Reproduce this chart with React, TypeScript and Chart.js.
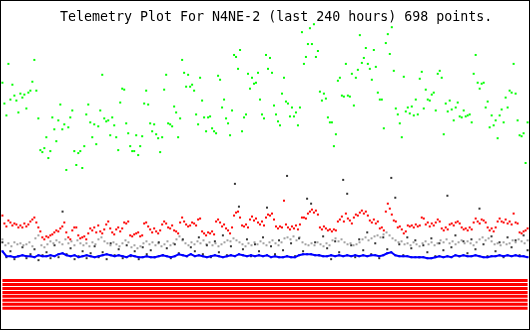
import React, { useEffect, useRef } from "react";
import { Chart, registerables } from "chart.js";

Chart.register(...registerables);

const TITLE = "Telemetry Plot For N4NE-2 (last 240 hours) 698 points.";
const HOURS = 240;

// Channel 1 (green, widely scattered)
const greenValues = [
  248, 227, 215, 267, 231, 246, 235, 230, 218, 237, 233, 236, 222, 238, 240, 249, 271, 240, 212, 180,
  178, 182, 193, 172, 179, 213, 201, 189, 210, 226, 201, 206, 160, 203, 213, 220, 179, 165, 177, 179,
  162, 184, 216, 226, 208, 193, 206, 186, 204, 220, 256, 212, 209, 210, 195, 213, 205, 193, 180, 228,
  242, 241, 207, 197, 184, 179,
  179, 195, 175, 184, 194, 227, 240, 226, 207, 199, 206, 196, 192, 178, 193, 241, 256, 207, 206, 204,
  224, 218, 193, 212, 271, 258, 244, 256, 244, 246, 240, 216, 206, 253, 230, 213, 199, 213, 214, 202,
  199, 197, 255, 251, 223, 231, 212, 207, 195, 220, 276, 274, 262, 281, 199, 213, 216, 257, 242, 253,
  247, 248, 258, 231, 216, 212, 276,
  262, 273, 258, 225, 216, 209, 205, 237, 253, 229, 227, 214, 223, 214, 218, 205, 223, 299, 267, 274,
  287, 303, 287, 307, 274, 280, 239, 230, 237, 232, 213, 208, 208, 184, 196, 250, 253, 235, 234, 267,
  235, 234, 257, 225, 253, 261, 296, 268, 273, 283, 267, 262, 251, 281, 264, 238, 231, 231, 202, 288,
  297, 277, 304, 260, 222, 216, 207,
  193, 254, 219, 223, 217, 224, 215, 231, 216, 252, 259, 222, 241, 231, 230, 236, 238, 220, 257, 260,
  253, 196, 227, 219, 230, 221, 210, 223, 228, 214, 213, 220, 214, 215, 216, 208, 257, 276, 248, 242,
  247, 248, 223, 229, 203, 215, 205, 210, 192, 215, 221, 208, 233, 223, 240, 238, 267, 237, 210, 195,
  194, 197, 167, 208,
];

// Channel 2 (red)
const redValues = [
  114, 106, 103, 109, 107, 104, 106, 105, 102, 104,
  102, 106, 103, 105, 108, 110, 112, 107, 102, 98,
  92, 90, 93, 92, 94, 95, 97, 99, 98, 101,
  103, 107, 97, 92, 90, 99, 102, 102, 94, 91,
  92, 93, 90, 96, 101, 99, 102, 97, 104, 98,
  96, 100, 105, 108, 101, 97, 95, 100, 102, 98,
  101, 107, 106, 108, 94, 93, 95, 96, 97, 93,
  94, 106, 107, 103, 100, 97, 101, 98, 96, 99,
  105, 108, 106, 102, 101, 104, 99, 98, 96, 107,
  112, 108, 105, 103, 104, 107, 106, 104, 110, 111,
  98, 96, 94, 97, 96, 98, 95, 108, 110, 107,
  103, 105, 101, 99, 96, 102, 114, 117, 118, 112,
  104, 103, 105, 102, 110, 113, 109, 111, 107, 105,
  108, 104, 112, 115, 114, 116, 110, 103, 101, 103,
  102, 129, 105, 102, 100, 103, 101, 104, 100, 105,
  112, 112, 111, 116, 118, 120, 117, 119, 115, 102,
  100, 103, 101, 99, 100, 98, 100, 99, 108, 110,
  113, 108, 116, 111, 109, 106, 112, 115, 114, 117,
  119, 116, 118, 114, 109, 107, 110, 106, 108, 101,
  102, 99, 118, 126, 121, 115, 109, 108, 102, 103,
  100, 96, 98, 104, 103, 104, 102, 105, 103, 104,
  112, 111, 105, 107, 103, 106, 104, 107, 110, 108,
  101, 99, 102, 100, 105, 106, 104, 107, 108, 106,
  102, 100, 101, 99, 102, 100, 107, 111, 108, 106,
  110, 109, 107, 102, 99, 101, 98, 102, 108, 111,
  108, 107, 110, 106, 108, 105, 116, 107, 106, 97,
  96, 98, 99, 101,
];

// Channel 3 (light grey)
const grayValues = [
  90, 84, 86, 83, 87, 85, 86, 84, 85, 87, 83, 91, 94,
  84, 82, 85, 88, 86, 89, 87, 85, 90, 86, 88, 84, 89, 86,
  84, 86, 83, 87, 85, 90, 92, 88, 86, 84, 87, 85, 83, 86,
  89, 87, 82, 84, 81, 83, 86, 88, 85, 87, 84, 86, 83, 85, 88, 84, 86, 90, 93,
  89, 86, 84, 87, 85, 88, 86, 89, 85, 87, 84, 86, 83, 85, 87, 89, 88, 91, 89, 87,
  85, 83, 86, 84, 87, 85, 88, 86, 84, 87, 89, 86, 84, 87, 91, 92, 90, 93, 89, 92,
  87, 85, 84, 86, 84, 87, 85, 83, 86, 84, 89, 91, 88, 90, 87, 85, 86, 84, 85, 87,
  90, 92, 89, 91, 93, 94, 92, 95, 97, 94, 91, 89, 87, 88, 85, 86, 84, 87, 85, 83,
  86, 88, 85, 87, 84, 86, 89, 87, 90, 86, 88, 85, 87, 89, 86, 88, 86, 84, 87, 90,
  92, 89, 91, 88, 85, 86, 84, 87, 85, 86, 89, 87, 90, 88, 86, 89,
];

// Channel 4 (dark grey)
const darkValues = [
  87, 72, 78, 70, 73, 82, 71, 75, 80, 69,
  74, 77, 71, 84, 72, 118, 75, 81, 70, 73,
  78, 71, 76, 83, 72, 77, 70, 86, 74, 80,
  71, 84, 73, 78, 70, 82, 75, 79, 72, 87,
  74, 81, 71, 85, 76, 90, 73, 82, 78, 92,
  75, 84, 72, 88, 77, 94, 74, 83, 146, 123,
  80, 90, 73, 85, 78, 92, 122, 83, 75, 89,
  79, 154, 86, 73, 91, 78, 131, 126, 87, 74,
  93, 81, 70, 88, 77, 150, 136, 84, 72, 90,
  79, 97, 75, 86, 71, 92, 80, 152, 132, 85,
  74, 92, 81, 89, 72, 84, 77, 91, 73, 86,
  79, 134, 82, 94, 73, 88, 76, 90, 80, 121,
  85, 73, 93, 78, 87, 72, 92, 82, 89, 74,
  94, 79,
];

// Channel 5 (blue)
const blueValues = [
  78, 73, 73, 72, 73, 74, 73, 73, 72, 74,
  73, 73, 74, 73, 75, 76, 74, 73, 74, 72,
  73, 74, 73, 72, 73, 74, 75, 74, 73, 74,
  73, 72, 74, 73, 72, 72, 73, 72, 72, 73,
  74, 73, 72, 73, 75, 74, 73, 75, 73, 74,
  73, 72, 73, 74, 73, 72, 73, 74, 73, 75,
  74, 73, 74, 73, 74, 73, 74, 72, 73, 72,
  72, 73, 72, 72, 74, 75, 75, 75, 74, 74,
  73, 73, 74, 73, 74, 73, 74, 73, 74, 73,
  74, 73, 74, 74, 73, 74, 76, 77, 74, 73,
  73, 73, 72, 72, 72, 72, 71, 71, 72, 73,
  72, 73, 72, 74, 73, 74, 73, 73, 74, 73,
  72, 72, 73, 73, 74, 73, 74, 73, 74, 73,
  73, 72,
];

// Constant channels (red bands)
const bandLevels = [48.5, 44.5, 40.5, 36.5, 32.5, 28.5, 24.5, 20.5];

const toPoints = (vals: number[]) =>
  vals.map((v, i) => ({ x: (i * HOURS) / (vals.length - 1), y: v }));

export default function App() {
  const ref = useRef<HTMLCanvasElement>(null);

  useEffect(() => {
    const canvas = ref.current;
    if (!canvas) return;

    const dots = (label: string, vals: number[], color: string) => ({
      label,
      data: toPoints(vals),
      backgroundColor: color,
      borderColor: color,
      pointStyle: "rect" as const,
      pointRadius: Math.SQRT2,
      pointHoverRadius: Math.SQRT2,
      pointBorderWidth: 0,
      showLine: false,
      clip: false as const,
    });

    const blue = {
      ...dots("Ch5", blueValues, "#0000ff"),
      showLine: true,
      borderWidth: 2,
    };

    const bands = bandLevels.map((lvl, k) => ({
      label: "Band" + (k + 1),
      data: [
        { x: 0, y: lvl },
        { x: HOURS, y: lvl },
      ],
      borderColor: "#ff0000",
      backgroundColor: "#ff0000",
      borderWidth: 3,
      pointRadius: 0,
      showLine: true,
      clip: false as const,
    }));

    const chart = new Chart(canvas, {
      type: "scatter",
      data: {
        datasets: [
          blue,
          dots("Ch2", redValues, "#ff0000"),
          dots("Ch4", darkValues, "#333333"),
          dots("Ch3", grayValues, "#a0a0a0"),
          dots("Ch1", greenValues, "#00ff00"),
          ...bands,
        ] as any,
      },
      options: {
        responsive: false,
        animation: false,
        devicePixelRatio: 1,
        layout: { padding: { left: 1, right: 1, top: 0, bottom: 0 } },
        plugins: {
          legend: { display: false },
          tooltip: { enabled: false },
          title: { display: false },
        },
        scales: {
          x: { type: "linear", min: 0, max: HOURS, display: false, bounds: "data" },
          y: { type: "linear", min: 1, max: 329, display: false, bounds: "data" },
        },
      },
    });
    return () => chart.destroy();
  }, []);

  return (
    <div
      style={{
        position: "absolute",
        left: 0,
        top: 0,
        width: 530,
        height: 330,
        boxSizing: "border-box",
        border: "1px solid #000",
        overflow: "hidden",
        background: "#ffffff",
      }}
    >
      <canvas ref={ref} width={528} height={328} style={{ display: "block" }} />
      <div
        style={{
          position: "absolute",
          left: 59,
          top: 8,
          fontFamily: "'DejaVu Sans Mono', monospace",
          fontSize: "13.3px",
          lineHeight: "16px",
          color: "#000000",
          whiteSpace: "nowrap",
        }}
      >
        {TITLE}
      </div>
    </div>
  );
}
